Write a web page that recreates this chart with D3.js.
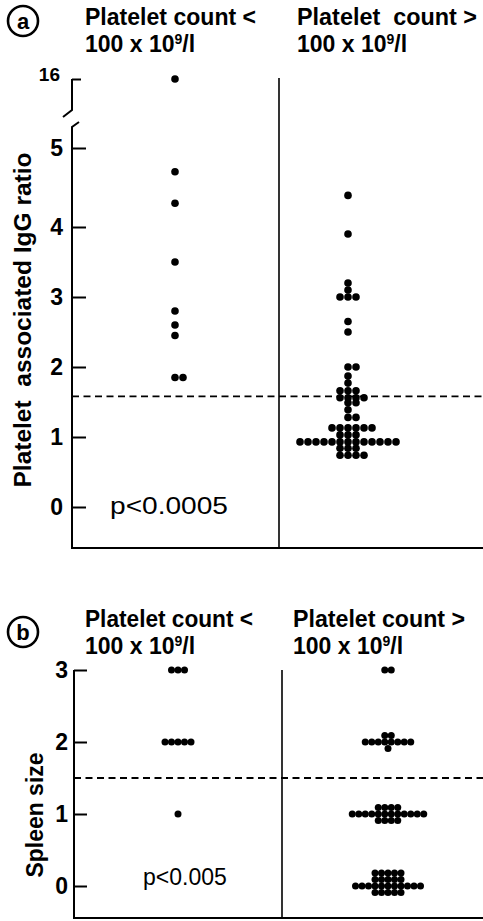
<!DOCTYPE html>
<html><head><meta charset="utf-8">
<script src="https://cdn.jsdelivr.net/npm/d3@7"></script>
<style>body{margin:0;background:#fff}svg{display:block}</style>
</head><body>
<svg id="chart" width="483" height="921"></svg>
<script>
// ---------- DATA ----------
const groups = ["low", "high"];
const headingLine1A = ["Platelet count <", "Platelet  count >"];
const headingLine1B = ["Platelet count <", "Platelet count >"];
const headingBase = "100 x 10", headingSup = "9", headingTail = "/l";

// (a) platelet associated IgG ratio
const iggTicks = [0, 1, 2, 3, 4, 5];
const iggBreakTick = 16;
const iggLow = [16, 4.7, 4.3, 3.5, 2.8, 2.6, 2.45, 1.85, 1.85];
const iggHigh = [
  4.4, 3.9, 3.2, 3.1, 3.0, 3.0, 3.0, 2.65, 2.5, 2.0, 2.0, 1.87, 1.77,
  1.66, 1.66, 1.66, 1.56, 1.56, 1.56, 1.56, 1.49, 1.49, 1.39, 1.28, 1.28,
  1.13, 1.13, 1.13, 1.13, 1.13, 1.13,
  1.03, 1.03, 1.03,
  0.93, 0.93, 0.93, 0.93, 0.93, 0.93, 0.93, 0.93, 0.93, 0.93, 0.93, 0.93, 0.93,
  0.84, 0.84, 0.84,
  0.74, 0.74, 0.74, 0.74
];
const iggCutoff = 1.58;
const iggP = "p<0.0005";
const iggLabel = "Platelet  associated IgG ratio";

// (b) spleen size: dot counts per stacked row (main row, above, below, above...)
const spleenTicks = [0, 1, 2, 3];
const spleenSizes = [0, 1, 2, 3];
const spleenLowRows = [[], [1], [5], [3]];
const spleenHighRows = [[11, 5, 5, 5], [12, 4, 4], [8, 2, 1], [2]];
const spleenCutoff = 1.5;
const spleenP = "p<0.005";
const spleenLabel = "Spleen size";

// ---------- DRAW ----------
const svg = d3.select("#chart");
const boldFont = "'Liberation Sans', Arial, sans-serif";

function headings(g, line1, x0, y1, y2, lengths) {
  line1.forEach((t, i) => {
    g.append("text").attr("x", x0[i]).attr("y", y1)
      .attr("font-family", boldFont).attr("font-weight", "bold").attr("font-size", 23)
      .attr("textLength", lengths[i]).attr("lengthAdjust", "spacingAndGlyphs")
      .style("white-space", "pre").text(t);
    const t2 = g.append("text").attr("x", x0[i]).attr("y", y2)
      .attr("font-family", boldFont).attr("font-weight", "bold").attr("font-size", 23);
    t2.append("tspan").text(headingBase);
    t2.append("tspan").attr("font-size", 14).attr("dy", -8).text(headingSup);
    t2.append("tspan").attr("dy", 8).text(headingTail);
  });
}
function badge(g, cx, cy, letter) {
  g.append("circle").attr("cx", cx).attr("cy", cy).attr("r", 15)
    .attr("fill", "none").attr("stroke", "#000").attr("stroke-width", 2.6);
  g.append("text").attr("x", cx).attr("y", cy + 7.5).attr("text-anchor", "middle")
    .attr("font-family", boldFont).attr("font-weight", "bold").attr("font-size", 22).text(letter);
}
function axisStyle(sel, size) {
  sel.selectAll(".domain").remove();
  sel.selectAll(".tick line").attr("stroke", "#000").attr("stroke-width", 2);
  sel.selectAll(".tick text").attr("font-family", boldFont).attr("font-weight", "bold")
    .attr("font-size", size).attr("fill", "#000");
}

// ===== Panel (a) =====
const A = svg.append("g");
const axA = 72, bottomA = 548, dividerA = 279;
const yA = d3.scaleLinear().domain([0, 4, 5, iggBreakTick]).range([507, 227, 148, 79]);
const xA = d3.scalePoint().domain(groups).range([175, 348]);

badge(A, 23, 21, "a");
headings(A, headingLine1A, [85, 297], 25, 52, [171, 180]);

const gA = A.append("g").attr("transform", `translate(${axA},0)`)
  .call(d3.axisLeft(yA).tickValues(iggTicks).tickSizeInner(-14).tickSizeOuter(0).tickPadding(9).tickFormat(d3.format("d")));
axisStyle(gA, 23);
const gA2 = A.append("g").attr("transform", `translate(${axA},0)`)
  .call(d3.axisLeft(yA).tickValues([iggBreakTick]).tickSizeInner(-9).tickSizeOuter(0).tickPadding(12).tickFormat(d3.format("d")));
axisStyle(gA2, 19);
gA2.selectAll(".tick text").attr("dy", "0.1em");
// axis lines with break
A.append("path").attr("d", `M${axA},${yA(iggBreakTick)}V${yA(iggBreakTick) + 31}L${axA - 9},${yA(iggBreakTick) + 38}`)
  .attr("fill", "none").attr("stroke", "#000").attr("stroke-width", 2);
A.append("path").attr("d", `M${axA + 7},${yA(iggBreakTick) + 43}L${axA},${yA(iggBreakTick) + 48}V${bottomA}H483`)
  .attr("fill", "none").attr("stroke", "#000").attr("stroke-width", 2);
A.append("line").attr("x1", dividerA).attr("x2", dividerA).attr("y1", yA(iggBreakTick) - 1).attr("y2", bottomA)
  .attr("stroke", "#000").attr("stroke-width", 1.6);
A.append("line").attr("x1", axA).attr("x2", 483).attr("y1", yA(iggCutoff)).attr("y2", yA(iggCutoff))
  .attr("stroke", "#000").attr("stroke-width", 1.8).attr("stroke-dasharray", "7,4.5");

function swarmRows(values) {
  const rows = d3.groups(values, v => v);
  const out = [];
  rows.forEach(([v, arr]) => arr.forEach((_, i) => {
    const k = i === 0 ? 0 : (i % 2 === 1 ? (i + 1) / 2 : -i / 2);
    out.push({ v, k });
  }));
  return out;
}
[[groups[0], iggLow], [groups[1], iggHigh]].forEach(([grp, vals]) => {
  A.append("g").selectAll("circle").data(swarmRows(vals)).join("circle")
    .attr("cx", d => xA(grp) + d.k * 8).attr("cy", d => yA(d.v)).attr("r", 3.8).attr("fill", "#000");
});
A.append("text").attr("x", 110).attr("y", 514).attr("font-family", boldFont)
  .attr("font-size", 23).attr("textLength", 118).attr("lengthAdjust", "spacingAndGlyphs").text(iggP);
A.append("text").attr("transform", `translate(31,320) rotate(-90)`).attr("text-anchor", "middle")
  .attr("font-family", boldFont).attr("font-weight", "bold").attr("font-size", 23)
  .attr("textLength", 335).attr("lengthAdjust", "spacingAndGlyphs").style("white-space", "pre").text(iggLabel);

// ===== Panel (b) =====
const B = svg.append("g");
const axB = 74, bottomB = 918, dividerB = 282;
const yB = d3.scaleLinear().domain([0, 3]).range([886, 670]);
const xB = d3.scalePoint().domain(groups).range([178, 388]);

badge(B, 23, 632, "b");
headings(B, headingLine1B, [85, 293], 627, 654, [168, 172]);

const gB = B.append("g").attr("transform", `translate(${axB},0)`)
  .call(d3.axisLeft(yB).tickValues(spleenTicks).tickSizeInner(-13).tickSizeOuter(0).tickPadding(6).tickFormat(d3.format("d")));
axisStyle(gB, 23);
B.append("path").attr("d", `M${axB},${yB(3)}V${bottomB}H483`).attr("fill", "none").attr("stroke", "#000").attr("stroke-width", 2);
B.append("line").attr("x1", dividerB).attr("x2", dividerB).attr("y1", yB(3)).attr("y2", bottomB)
  .attr("stroke", "#000").attr("stroke-width", 1.6);
B.append("line").attr("x1", axB).attr("x2", 483).attr("y1", yB(spleenCutoff)).attr("y2", yB(spleenCutoff))
  .attr("stroke", "#000").attr("stroke-width", 1.8).attr("stroke-dasharray", "7,4.5");

function stackDots(rowsBySize) {
  const out = [];
  rowsBySize.forEach((rows, si) => rows.forEach((n, ri) => {
    const level = ri === 0 ? 0 : (ri % 2 === 1 ? -Math.ceil(ri / 2) : ri / 2);
    for (let i = 0; i < n; i++) out.push({ v: spleenSizes[si], dx: i - (n - 1) / 2, level });
  }));
  return out;
}
[[groups[0], spleenLowRows], [groups[1], spleenHighRows]].forEach(([grp, rows]) => {
  B.append("g").selectAll("circle").data(stackDots(rows)).join("circle")
    .attr("cx", d => xB(grp) + d.dx * 6.5).attr("cy", d => yB(d.v) + d.level * 6.5)
    .attr("r", 3.5).attr("fill", "#000");
});
B.append("text").attr("x", 143).attr("y", 885).attr("font-family", boldFont)
  .attr("font-size", 23).text(spleenP);
B.append("text").attr("transform", `translate(43,815) rotate(-90)`).attr("text-anchor", "middle")
  .attr("font-family", boldFont).attr("font-weight", "bold").attr("font-size", 23)
  .attr("textLength", 125).attr("lengthAdjust", "spacingAndGlyphs").text(spleenLabel);
</script>
</body></html>
